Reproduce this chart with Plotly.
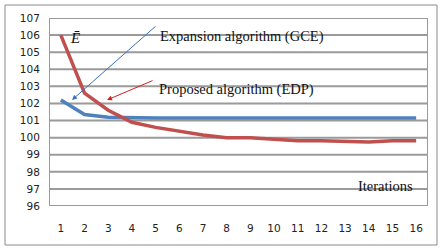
import plotly.graph_objects as go

iterations = list(range(1, 17))
proposed_edp = [106.0, 102.6, 101.6, 100.9, 100.6, 100.35, 100.15, 100.0,
                100.0, 99.9, 99.82, 99.82, 99.8, 99.75, 99.82, 99.82]
expansion_gce = [102.2, 101.35, 101.2, 101.15, 101.15, 101.15, 101.15, 101.15,
                 101.15, 101.15, 101.15, 101.15, 101.15, 101.15, 101.15, 101.15]
y_ticks = list(range(96, 108))

W, H = 448, 252
L, R, T, B = 49, 20, 18, 46
pw, ph = W - L - R, H - T - B
x_lo, x_hi = 0.5, 16.5
y_lo, y_hi = y_ticks[0], y_ticks[-1]

def px(x):
    return (x - L) / pw

def py(y):
    return 1 - (y - T) / ph

grid_color = "#9A9A9A"
gx, gy = [], []
for v in y_ticks:
    gx += [x_lo, x_hi, None]
    gy += [v, v, None]
# vertical sides of the plot frame
gx += [x_lo, x_lo, None, x_hi, x_hi, None]
gy += [y_lo, y_hi, None, y_lo, y_hi, None]

fig = go.Figure()
fig.add_trace(go.Scatter(x=gx, y=gy, mode="lines", hoverinfo="skip",
                         line=dict(color=grid_color, width=2), cliponaxis=False,
                         name="grid"))
fig.add_trace(go.Scatter(x=iterations, y=expansion_gce, mode="lines",
                         line=dict(color="#4F81BD", width=3.5), name="GCE"))
fig.add_trace(go.Scatter(x=iterations, y=proposed_edp, mode="lines",
                         line=dict(color="#C0504D", width=3.5), name="EDP"))

shapes = [dict(type="rect", xref="paper", yref="paper",
               x0=px(5), x1=px(437), y0=py(245), y1=py(5),
               fillcolor="rgba(0,0,0,0)",
               line=dict(color="#8A8A8A", width=1), layer="above")]

serif = "Liberation Serif, Times New Roman, serif"
fig.update_layout(
    width=W, height=H,
    margin=dict(l=L, r=R, t=T, b=B),
    paper_bgcolor="white", plot_bgcolor="rgba(0,0,0,0)",
    showlegend=False,
    font=dict(family="DejaVu Sans, Verdana, sans-serif", size=10.5, color="#222"),
    xaxis=dict(range=[x_lo, x_hi], tickmode="array", tickvals=iterations,
               showgrid=False, zeroline=False, showline=False,
               ticks="outside", ticklen=12, tickcolor="rgba(0,0,0,0)"),
    yaxis=dict(range=[y_lo, y_hi], tickmode="array", tickvals=y_ticks,
               showgrid=False, zeroline=False, showline=False,
               ticks="outside", ticklen=6, tickcolor="rgba(0,0,0,0)"),
    shapes=shapes,
)

fig.add_annotation(x=px(75), y=py(28), xref="paper", yref="paper",
                   text="<i>Ē</i>", showarrow=False, xanchor="center",
                   font=dict(family=serif, size=15, color="#111"))
fig.add_annotation(x=px(158), y=py(26), xref="paper", yref="paper",
                   text="Expansion algorithm (GCE)", showarrow=False,
                   xanchor="left", font=dict(family=serif, size=14.5, color="#111"))
fig.add_annotation(x=px(157), y=py(79), xref="paper", yref="paper",
                   text="Proposed algorithm (EDP)", showarrow=False,
                   xanchor="left", font=dict(family=serif, size=14.5, color="#111"))
fig.add_annotation(x=px(385), y=py(196), xref="paper", yref="paper",
                   text="Iterations", showarrow=False, xanchor="center",
                   font=dict(family=serif, size=14.5, color="#111"))
# arrows
fig.add_annotation(x=px(72), y=py(100), xref="paper", yref="paper",
                   ax=157 - 72, ay=25 - 100,
                   text="", showarrow=True, arrowhead=2, arrowsize=1,
                   arrowwidth=1, arrowcolor="#3A6FC4")
fig.add_annotation(x=px(107), y=py(100), xref="paper", yref="paper",
                   ax=154 - 107, ay=80 - 100,
                   text="", showarrow=True, arrowhead=2, arrowsize=1,
                   arrowwidth=1, arrowcolor="#D42020")

fig.write_html("out.html", config={"displayModeBar": False},
               post_script="document.body.style.margin='0';document.body.style.padding='0';")
